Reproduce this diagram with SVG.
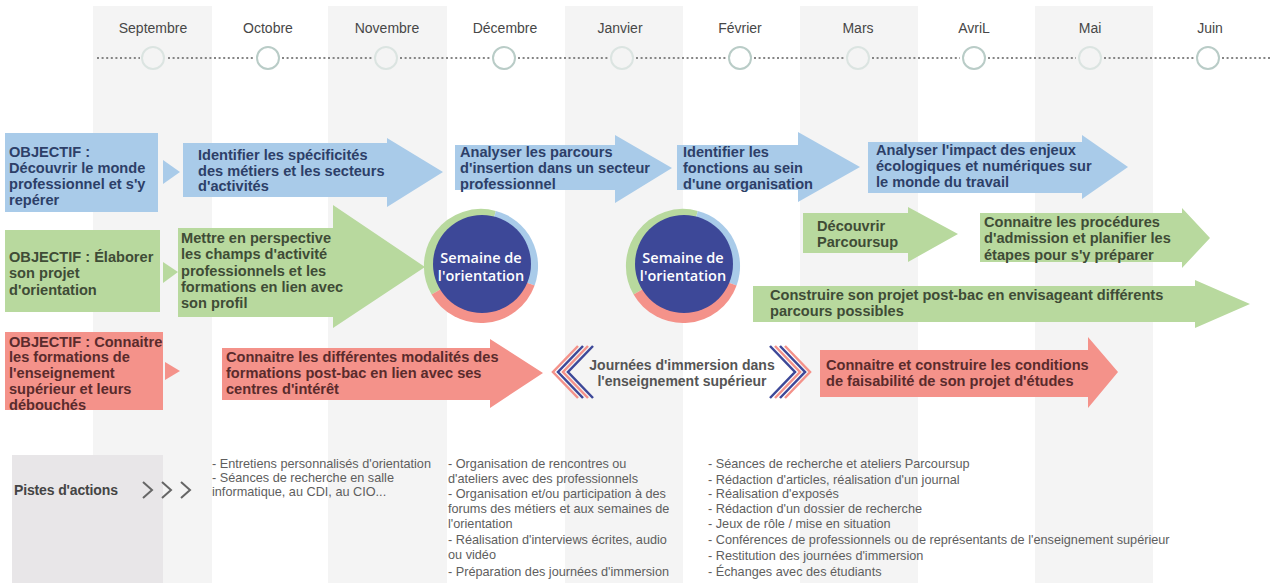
<svg xmlns="http://www.w3.org/2000/svg" width="1271" height="583" viewBox="0 0 1271 583">
<style>
.band{fill:#f4f4f4}
.month{font-family:"Liberation Sans",Arial,sans-serif;font-size:14px;fill:#474747;text-anchor:middle}
.dots{stroke:#858585;stroke-width:2.2;stroke-dasharray:2 2.6;fill:none}
.tlc{fill:#fff;stroke:#b9ccc7;stroke-width:2}
.tlf{fill:#f4f4f4;stroke:#dbe4e1;stroke-width:2}
.blue{fill:#a9cbe9}
.green{fill:#b8d99e}
.red{fill:#f4928a}
.t{font-family:"Liberation Sans",Arial,sans-serif;font-weight:bold;font-size:14.6px}
.tB{fill:#2d3f68}
.tG{fill:#3f4c36}
.tR{fill:#5a2b2c}
.sem{font-family:"Open Sans","Liberation Sans",sans-serif;font-weight:600;font-size:14.5px;fill:#fff;text-anchor:middle}
.imm{font-family:"Liberation Sans",Arial,sans-serif;font-weight:bold;font-size:14px;fill:#555;text-anchor:middle}
.act{font-family:"Liberation Sans",Arial,sans-serif;font-size:12.7px;fill:#5e5e5e}
.chevS{fill:none;stroke:#f4928a;stroke-width:2.5}
.chevN{fill:none;stroke:#3d4898;stroke-width:2.5}
</style>
<rect width="1271" height="583" fill="#fff"/>
<g id="bands">
<rect class="band" x="93" y="6" width="119" height="577"/>
<rect class="band" x="328" y="6" width="119" height="577"/>
<rect class="band" x="565" y="6" width="118" height="577"/>
<rect class="band" x="800" y="6" width="118" height="577"/>
<rect class="band" x="1035" y="6" width="118" height="577"/>
</g>
<g id="timeline">
<text class="month" x="153" y="33">Septembre</text>
<text class="month" x="268" y="33">Octobre</text>
<text class="month" x="387" y="33">Novembre</text>
<text class="month" x="505" y="33">Décembre</text>
<text class="month" x="620" y="33">Janvier</text>
<text class="month" x="740" y="33">Février</text>
<text class="month" x="858" y="33">Mars</text>
<text class="month" x="974" y="33">AvriL</text>
<text class="month" x="1090" y="33">Mai</text>
<text class="month" x="1210" y="33">Juin</text>
<path class="dots" d="M97,58H140 M168,58H254 M282,58H372 M400,58H490 M518,58H608 M636,58H726 M754,58H844 M872,58H960 M988,58H1076 M1104,58H1194 M1222,58H1271"/>
<circle class="tlf" cx="153" cy="58" r="11"/>
<circle class="tlc" cx="268" cy="58" r="11"/>
<circle class="tlf" cx="386" cy="58" r="11"/>
<circle class="tlc" cx="504" cy="58" r="11"/>
<circle class="tlf" cx="622" cy="58" r="11"/>
<circle class="tlc" cx="740" cy="58" r="11"/>
<circle class="tlf" cx="858" cy="58" r="11"/>
<circle class="tlc" cx="974" cy="58" r="11"/>
<circle class="tlf" cx="1090" cy="58" r="11"/>
<circle class="tlc" cx="1208" cy="58" r="11"/>
</g>
<g id="connectors">
<polygon class="blue" points="163,160 180,172 163,184"/>
<polygon class="green" points="163,262 178,272 163,283"/>
<polygon class="red" points="165,362 180,371 165,380"/>
</g>
<g id="obj1">
<rect class="blue" x="5" y="133" width="153" height="79"/>
<text class="t tB" x="9"><tspan x="9" y="157">OBJECTIF :</tspan><tspan x="9" y="173">Découvrir le monde</tspan><tspan x="9" y="189">professionnel et s'y</tspan><tspan x="9" y="205">repérer</tspan></text>
</g>
<g id="b1">
<polygon class="blue" points="183,143 387,143 387,138 443,172 387,207 387,197 183,197"/>
<text class="t tB"><tspan x="198" y="160">Identifier les spécificités</tspan><tspan x="198" y="176">des métiers et les secteurs</tspan><tspan x="198" y="191">d'activités</tspan></text>
</g>
<g id="b2">
<polygon class="blue" points="455,145 615,145 615,135 672,168 615,203 615,190 455,190"/>
<text class="t tB"><tspan x="460" y="157">Analyser les parcours</tspan><tspan x="460" y="173">d'insertion dans un secteur</tspan><tspan x="460" y="189">professionnel</tspan></text>
</g>
<g id="b3">
<polygon class="blue" points="677,145 798,145 798,132 860,167 798,202 798,190 677,190"/>
<text class="t tB"><tspan x="683" y="157">Identifier les</tspan><tspan x="683" y="173">fonctions au sein</tspan><tspan x="683" y="189">d'une organisation</tspan></text>
</g>
<g id="b4">
<polygon class="blue" points="868,142 1082,142 1082,135 1128,167 1082,199 1082,193 868,193"/>
<text class="t tB"><tspan x="876" y="155">Analyser l'impact des enjeux</tspan><tspan x="876" y="171">écologiques et numériques sur</tspan><tspan x="876" y="187">le monde du travail</tspan></text>
</g>
<g id="obj2">
<rect class="green" x="5" y="230" width="155" height="82"/>
<text class="t tG"><tspan x="9" y="262">OBJECTIF : Élaborer</tspan><tspan x="9" y="278">son projet</tspan><tspan x="9" y="295">d'orientation</tspan></text>
</g>
<g id="g1">
<polygon class="green" points="178,228 333,228 333,205 425,267 333,328 333,317 178,317"/>
<text class="t tG"><tspan x="181" y="243">Mettre en perspective</tspan><tspan x="181" y="259">les champs d'activité</tspan><tspan x="181" y="276">professionnels et les</tspan><tspan x="181" y="292">formations en lien avec</tspan><tspan x="181" y="308">son profil</tspan></text>
</g>
<g id="sem1">
<path class="green" d="M481,266 L431.6,294.5 A57,57 0 0 1 495.8,210.9 Z"/>
<path class="blue" d="M481,266 L495.8,210.9 A57,57 0 0 1 534.6,285.5 Z"/>
<path class="red" d="M481,266 L534.6,285.5 A57,57 0 0 1 431.6,294.5 Z"/>
<circle cx="482" cy="264" r="49" fill="#3d4898"/>
<text class="sem"><tspan x="481" y="263">Semaine de</tspan><tspan x="481" y="281">l'orientation</tspan></text>
</g>
<g id="sem2">
<path class="green" d="M683,266 L633.6,294.5 A57,57 0 0 1 697.8,210.9 Z"/>
<path class="blue" d="M683,266 L697.8,210.9 A57,57 0 0 1 736.6,285.5 Z"/>
<path class="red" d="M683,266 L736.6,285.5 A57,57 0 0 1 633.6,294.5 Z"/>
<circle cx="684" cy="264" r="49" fill="#3d4898"/>
<text class="sem"><tspan x="683" y="263">Semaine de</tspan><tspan x="683" y="281">l'orientation</tspan></text>
</g>
<g id="g2">
<polygon class="green" points="803,213 908,213 908,207 958,234 908,262 908,253 803,253"/>
<text class="t tG"><tspan x="817" y="231">Découvrir</tspan><tspan x="817" y="247">Parcoursup</tspan></text>
</g>
<g id="g3">
<polygon class="green" points="980,213 1182,213 1182,208 1210,238 1182,268 1182,262 980,262"/>
<text class="t tG"><tspan x="984" y="227">Connaitre les procédures</tspan><tspan x="984" y="243">d'admission et planifier les</tspan><tspan x="984" y="260">étapes pour s'y préparer</tspan></text>
</g>
<g id="g4">
<polygon class="green" points="753,286 1195,286 1195,280 1250,304 1195,328 1195,322 753,322"/>
<text class="t tG"><tspan x="770" y="300">Construire son projet post-bac en envisageant différents</tspan><tspan x="770" y="316">parcours possibles</tspan></text>
</g>
<g id="obj3">
<rect class="red" x="5" y="332" width="158" height="78"/>
<text class="t tR"><tspan x="9" y="347">OBJECTIF : Connaitre</tspan><tspan x="9" y="362">les formations de</tspan><tspan x="9" y="378">l'enseignement</tspan><tspan x="9" y="394">supérieur et leurs</tspan><tspan x="9" y="410">débouchés</tspan></text>
</g>
<g id="r1">
<polygon class="red" points="222,348 490,348 490,339 543,373 490,408 490,400 222,400"/>
<text class="t tR"><tspan x="226" y="362">Connaitre les différentes modalités des</tspan><tspan x="226" y="378">formations post-bac en lien avec ses</tspan><tspan x="226" y="394">centres d'intérêt</tspan></text>
</g>
<g id="immersion">
<polyline class="chevS" points="578,346 553,372 578,398"/>
<polyline class="chevN" points="583,346 558,372 583,398"/>
<polyline class="chevS" points="588,346 563,372 588,398"/>
<polyline class="chevN" points="593,346 568,372 593,398"/>
<polyline class="chevS" points="785,346 810,372 785,398"/>
<polyline class="chevN" points="780,346 805,372 780,398"/>
<polyline class="chevS" points="775,346 800,372 775,398"/>
<polyline class="chevN" points="770,346 795,372 770,398"/>
<text class="imm"><tspan x="682" y="370">Journées d'immersion dans</tspan><tspan x="682" y="386">l'enseignement supérieur</tspan></text>
</g>
<g id="r2">
<polygon class="red" points="820,350 1088,350 1088,337 1118,372 1088,408 1088,397 820,397"/>
<text class="t tR"><tspan x="826" y="370">Connaitre et construire les conditions</tspan><tspan x="826" y="386">de faisabilité de son projet d'études</tspan></text>
</g>
<g id="pistes">
<rect x="12" y="455" width="151" height="128" fill="#e8e6e8"/>
<text x="14" y="495" font-family="Liberation Sans,Arial,sans-serif" font-weight="bold" font-size="14" fill="#444" textLength="104">Pistes d'actions</text>
<path d="M143,482 L152,490 L143,498 M162,482 L171,490 L162,498 M181,482 L190,490 L181,498" fill="none" stroke="#666" stroke-width="2"/>
</g>
<g id="actions1">
<text class="act"><tspan x="212" y="468">- Entretiens personnalisés d'orientation</tspan><tspan x="212" y="482">- Séances de recherche en salle</tspan><tspan x="212" y="496">informatique, au CDI, au CIO...</tspan></text>
</g>
<g id="actions2">
<text class="act"><tspan x="448" y="468">- Organisation de rencontres ou</tspan><tspan x="448" y="483">d'ateliers avec des professionnels</tspan><tspan x="448" y="498">- Organisation et/ou participation à des</tspan><tspan x="448" y="513">forums des métiers et aux semaines de</tspan><tspan x="448" y="528">l'orientation</tspan><tspan x="448" y="544">- Réalisation d'interviews écrites, audio</tspan><tspan x="448" y="559">ou vidéo</tspan><tspan x="448" y="576">- Préparation des journées d'immersion</tspan></text>
</g>
<g id="actions3">
<text class="act"><tspan x="708" y="468">- Séances de recherche et ateliers Parcoursup</tspan><tspan x="708" y="484">- Rédaction d'articles, réalisation d'un journal</tspan><tspan x="708" y="498">- Réalisation d'exposés</tspan><tspan x="708" y="513">- Rédaction d'un dossier de recherche</tspan><tspan x="708" y="528">- Jeux de rôle / mise en situation</tspan><tspan x="708" y="544">- Conférences de professionnels ou de représentants de l'enseignement supérieur</tspan><tspan x="708" y="560">- Restitution des journées d'immersion</tspan><tspan x="708" y="576">- Échanges avec des étudiants</tspan></text>
</g>
</svg>
